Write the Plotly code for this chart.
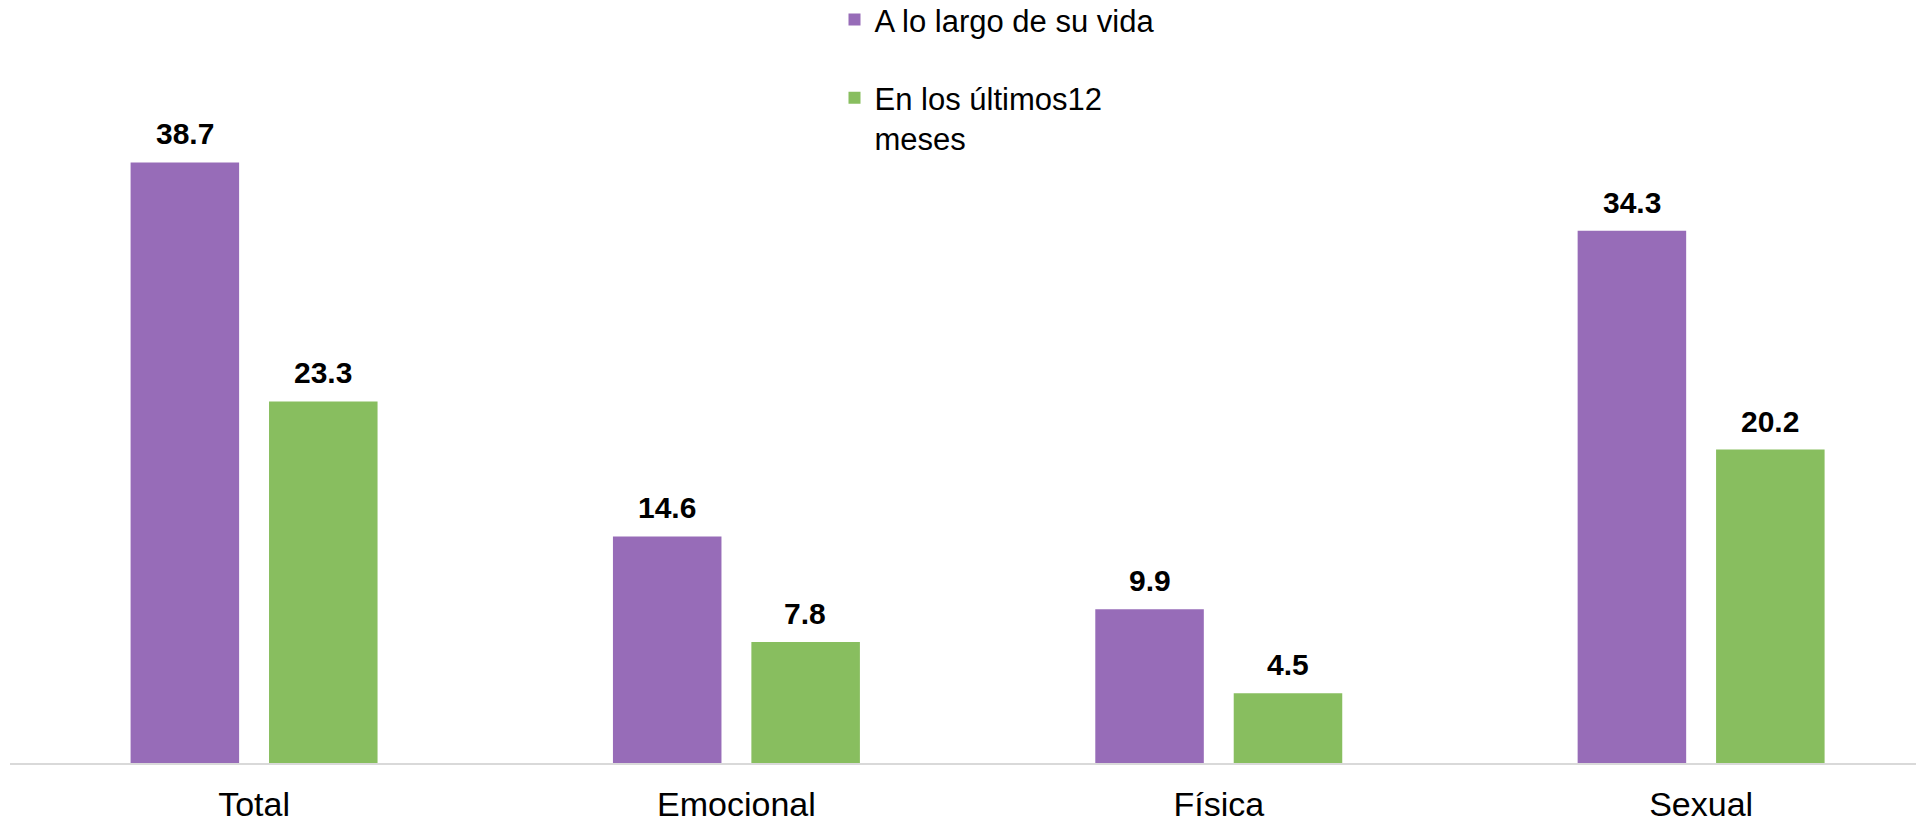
import plotly.graph_objects as go

categories = ["Total", "Emocional", "Física", "Sexual"]
vida = [38.7, 14.6, 9.9, 34.3]
ultimos = [23.3, 7.8, 4.5, 20.2]
series_names = ["A lo largo de su vida", "En los últimos12<br>meses"]
colors = ["#976CB8", "#88BE5F"]

FONT = "Arial, 'Liberation Sans', sans-serif"

fig = go.Figure()
for name, vals, col, grp in [(series_names[0], vida, colors[0], "g1"),
                             (series_names[1], ultimos, colors[1], "g2")]:
    fig.add_trace(go.Bar(
        x=categories, y=vals, name=name, marker_color=col,
        marker_line_width=0, legendgroup=grp,
    ))

# data labels
for vals, shift in [(vida, -69), (ultimos, 69)]:
    for c, v in zip(categories, vals):
        fig.add_annotation(
            x=c, y=v, text=f"<b>{v:.1f}</b>", showarrow=False,
            xshift=shift, yshift=10, yanchor="bottom",
            font=dict(family=FONT, size=30, color="#000000"),
        )

fig.update_layout(
    width=1916, height=812,
    paper_bgcolor="white", plot_bgcolor="white",
    margin=dict(l=2, r=1, t=0, b=57, autoexpand=False),
    barmode="group", bargap=0.426, bargroupgap=0.216,
    font=dict(family=FONT, size=30, color="#000000"),
    showlegend=True,
    legend=dict(
        x=0.431, y=1.02, xanchor="left", yanchor="top",
        traceorder="grouped", tracegroupgap=35, valign="top",
        font=dict(family=FONT, size=31, color="#000000"),
        bgcolor="rgba(0,0,0,0)",
    ),
    xaxis=dict(
        range=[-0.506, 3.46], showgrid=False, zeroline=False,
        showline=True, linecolor="#d9d9d9", linewidth=2,
        ticks="", ticklabelstandoff=10,
        tickfont=dict(family=FONT, size=34, color="#000000"),
    ),
    yaxis=dict(range=[0, 48.65], visible=False, showgrid=False, zeroline=False),
)

fig.write_html("out.html")
